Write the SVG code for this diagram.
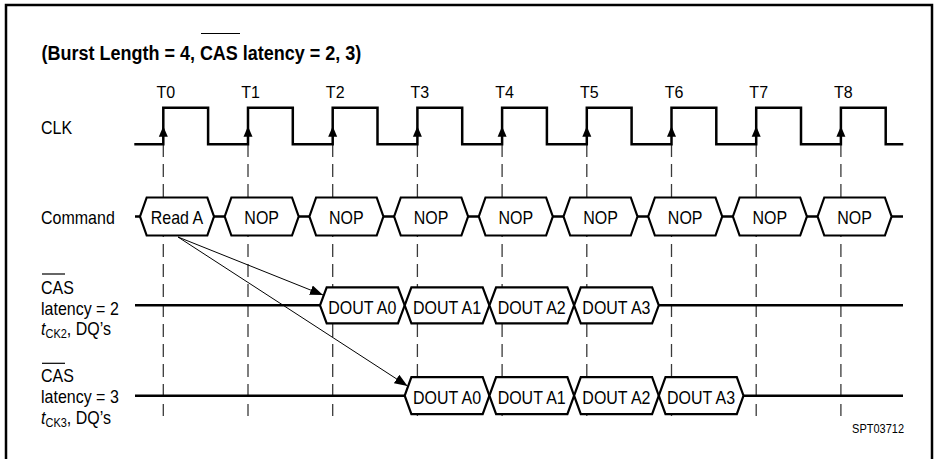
<svg xmlns="http://www.w3.org/2000/svg" width="937" height="459" viewBox="0 0 937 459">
<style>
  text { font-family: "Liberation Sans", Arial, Helvetica, sans-serif; fill: #000; }
  .lbl { font-size: 16px; }
  .tl { font-size: 16px; text-anchor: middle; }
  .hx { font-size: 16px; text-anchor: middle; }
  .title { font-size: 18px; font-weight: bold; }
  .sub { font-size: 11px; }
  .small { font-size: 11px; text-anchor: end; }
  .sig { fill: none; stroke: #000; stroke-width: 2.5; stroke-linejoin: miter; }
  .hex { fill: #fff; stroke: #000; stroke-width: 2.2; stroke-linejoin: miter; }
  .grid { stroke: #3a3a3a; stroke-width: 1.3; stroke-dasharray: 13 7; fill: none; }
  .bar { stroke: #000; stroke-width: 1.2; }
  .conn { stroke: #000; stroke-width: 1; fill: none; marker-end: url(#ah); }
</style>
<defs>
  <marker id="ah" markerUnits="userSpaceOnUse" markerWidth="14" markerHeight="10" refX="13" refY="5" orient="auto">
    <path d="M0,0 L13,5 L0,10 Z" fill="#000"/>
  </marker>
  <path id="edge" d="M0,-18 L-4.5,-7.5 L4.5,-7.5 Z" fill="#000"/>
</defs>

<rect x="0" y="0" width="937" height="459" fill="#fff"/>
<rect x="6" y="5" width="926" height="470" fill="none" stroke="#000" stroke-width="2.5"/>

<g id="title">
  <text class="title" transform="translate(41.5,60) scale(1,1.08)">(Burst Length = 4, CAS latency = 2, 3)</text>
  <line class="bar" x1="201" y1="33.5" x2="240" y2="33.5" stroke-width="1.5"/>
</g>

<g id="grid-lines">
  <line class="grid" x1="163.3" y1="144" x2="163.3" y2="416"/>
  <line class="grid" x1="248" y1="144" x2="248" y2="416"/>
  <line class="grid" x1="332.7" y1="144" x2="332.7" y2="416"/>
  <line class="grid" x1="417.4" y1="144" x2="417.4" y2="416"/>
  <line class="grid" x1="502.1" y1="144" x2="502.1" y2="416"/>
  <line class="grid" x1="586.8" y1="144" x2="586.8" y2="416"/>
  <line class="grid" x1="671.5" y1="144" x2="671.5" y2="416"/>
  <line class="grid" x1="756.2" y1="144" x2="756.2" y2="416"/>
  <line class="grid" x1="840.9" y1="144" x2="840.9" y2="416"/>
</g>

<g id="clock-labels">
  <text class="tl" x="165.8" y="98">T0</text>
  <text class="tl" x="250.5" y="98">T1</text>
  <text class="tl" x="335.2" y="98">T2</text>
  <text class="tl" x="419.9" y="98">T3</text>
  <text class="tl" x="504.6" y="98">T4</text>
  <text class="tl" x="589.3" y="98">T5</text>
  <text class="tl" x="674" y="98">T6</text>
  <text class="tl" x="758.7" y="98">T7</text>
  <text class="tl" x="843.4" y="98">T8</text>
</g>

<g id="clk">
  <text class="lbl" transform="translate(41,134) scale(1,1.15)">CLK</text>
  <path class="sig" d="M134.3,144.3 H163.3 V107.7 H208.1 V144.3 H248 V107.7 H292.8 V144.3 H332.7 V107.7 H377.5 V144.3 H417.4 V107.7 H462.2 V144.3 H502.1 V107.7 H546.9 V144.3 H586.8 V107.7 H631.6 V144.3 H671.5 V107.7 H716.3 V144.3 H756.2 V107.7 H801 V144.3 H840.9 V107.7 H885.7 V144.3 H903.3"/>
  <use href="#edge" x="163.3" y="144.3"/>
  <use href="#edge" x="248" y="144.3"/>
  <use href="#edge" x="332.7" y="144.3"/>
  <use href="#edge" x="417.4" y="144.3"/>
  <use href="#edge" x="502.1" y="144.3"/>
  <use href="#edge" x="586.8" y="144.3"/>
  <use href="#edge" x="671.5" y="144.3"/>
  <use href="#edge" x="756.2" y="144.3"/>
  <use href="#edge" x="840.9" y="144.3"/>
</g>

<g id="command">
  <text class="lbl" transform="translate(41,224) scale(1,1.15)">Command</text>
  <path class="sig" d="M135,216.5 H903"/>
  <g id="cmd-read-a">
    <polygon class="hex" points="140,216.5 146.7,197.5 207.3,197.5 214,216.5 207.3,235.5 146.7,235.5"/>
    <text class="hx" transform="translate(177,224) scale(1,1.15)">Read A</text>
  </g>
  <g id="cmd-nop-1">
    <polygon class="hex" points="224.7,216.5 231.4,197.5 292,197.5 298.7,216.5 292,235.5 231.4,235.5"/>
    <text class="hx" transform="translate(261.7,224) scale(1,1.15)">NOP</text>
  </g>
  <g id="cmd-nop-2">
    <polygon class="hex" points="309.4,216.5 316.1,197.5 376.7,197.5 383.4,216.5 376.7,235.5 316.1,235.5"/>
    <text class="hx" transform="translate(346.4,224) scale(1,1.15)">NOP</text>
  </g>
  <g id="cmd-nop-3">
    <polygon class="hex" points="394.1,216.5 400.8,197.5 461.4,197.5 468.1,216.5 461.4,235.5 400.8,235.5"/>
    <text class="hx" transform="translate(431.1,224) scale(1,1.15)">NOP</text>
  </g>
  <g id="cmd-nop-4">
    <polygon class="hex" points="478.8,216.5 485.5,197.5 546.1,197.5 552.8,216.5 546.1,235.5 485.5,235.5"/>
    <text class="hx" transform="translate(515.8,224) scale(1,1.15)">NOP</text>
  </g>
  <g id="cmd-nop-5">
    <polygon class="hex" points="563.5,216.5 570.2,197.5 630.8,197.5 637.5,216.5 630.8,235.5 570.2,235.5"/>
    <text class="hx" transform="translate(600.5,224) scale(1,1.15)">NOP</text>
  </g>
  <g id="cmd-nop-6">
    <polygon class="hex" points="648.2,216.5 654.9,197.5 715.5,197.5 722.2,216.5 715.5,235.5 654.9,235.5"/>
    <text class="hx" transform="translate(685.2,224) scale(1,1.15)">NOP</text>
  </g>
  <g id="cmd-nop-7">
    <polygon class="hex" points="732.9,216.5 739.6,197.5 800.2,197.5 806.9,216.5 800.2,235.5 739.6,235.5"/>
    <text class="hx" transform="translate(769.9,224) scale(1,1.15)">NOP</text>
  </g>
  <g id="cmd-nop-8">
    <polygon class="hex" points="817.6,216.5 824.3,197.5 884.9,197.5 891.6,216.5 884.9,235.5 824.3,235.5"/>
    <text class="hx" transform="translate(854.6,224) scale(1,1.15)">NOP</text>
  </g>
</g>

<g id="cl2">
  <text class="lbl" transform="translate(41,293.5) scale(1,1.15)">CAS</text>
  <line class="bar" x1="42" y1="274" x2="65" y2="274"/>
  <text class="lbl" transform="translate(41,314.5) scale(1,1.15)">latency = 2</text>
  <text class="lbl" transform="translate(41,335) scale(1,1.15)"><tspan font-style="italic">t</tspan><tspan class="sub" dy="2.5">CK2</tspan><tspan dy="-2.5">, DQ’s</tspan></text>
  <path class="sig" d="M135,305.3 H320 M658.8,305.3 H903"/>
  <g id="cl2-a0">
    <polygon class="hex" points="320,305.3 326.7,287.3 398,287.3 404.7,305.3 398,323.3 326.7,323.3"/>
    <text class="hx" transform="translate(362.3,314) scale(1,1.15)">DOUT A0</text>
  </g>
  <g id="cl2-a1">
    <polygon class="hex" points="404.7,305.3 411.4,287.3 482.7,287.3 489.4,305.3 482.7,323.3 411.4,323.3"/>
    <text class="hx" transform="translate(447,314) scale(1,1.15)">DOUT A1</text>
  </g>
  <g id="cl2-a2">
    <polygon class="hex" points="489.4,305.3 496.1,287.3 567.4,287.3 574.1,305.3 567.4,323.3 496.1,323.3"/>
    <text class="hx" transform="translate(531.7,314) scale(1,1.15)">DOUT A2</text>
  </g>
  <g id="cl2-a3">
    <polygon class="hex" points="574.1,305.3 580.8,287.3 652.1,287.3 658.8,305.3 652.1,323.3 580.8,323.3"/>
    <text class="hx" transform="translate(616.4,314) scale(1,1.15)">DOUT A3</text>
  </g>
</g>

<g id="cl3">
  <text class="lbl" transform="translate(41,382) scale(1,1.15)">CAS</text>
  <line class="bar" x1="42" y1="363.3" x2="65" y2="363.3"/>
  <text class="lbl" transform="translate(41,402.5) scale(1,1.15)">latency = 3</text>
  <text class="lbl" transform="translate(41,424) scale(1,1.15)"><tspan font-style="italic">t</tspan><tspan class="sub" dy="2.5">CK3</tspan><tspan dy="-2.5">, DQ’s</tspan></text>
  <path class="sig" d="M135,395.7 H404.7 M743.5,395.7 H903"/>
  <g id="cl3-a0">
    <polygon class="hex" points="404.7,395.7 411.4,377.2 482.7,377.2 489.4,395.7 482.7,414.2 411.4,414.2"/>
    <text class="hx" transform="translate(447,404.3) scale(1,1.15)">DOUT A0</text>
  </g>
  <g id="cl3-a1">
    <polygon class="hex" points="489.4,395.7 496.1,377.2 567.4,377.2 574.1,395.7 567.4,414.2 496.1,414.2"/>
    <text class="hx" transform="translate(531.7,404.3) scale(1,1.15)">DOUT A1</text>
  </g>
  <g id="cl3-a2">
    <polygon class="hex" points="574.1,395.7 580.8,377.2 652.1,377.2 658.8,395.7 652.1,414.2 580.8,414.2"/>
    <text class="hx" transform="translate(616.4,404.3) scale(1,1.15)">DOUT A2</text>
  </g>
  <g id="cl3-a3">
    <polygon class="hex" points="658.8,395.7 665.5,377.2 736.8,377.2 743.5,395.7 736.8,414.2 665.5,414.2"/>
    <text class="hx" transform="translate(701.1,404.3) scale(1,1.15)">DOUT A3</text>
  </g>
</g>

<g id="connectors">
  <path class="conn" d="M178,237 L323,295"/>
  <path class="conn" d="M178,237 L407.5,386"/>
</g>

<g id="figure-id">
  <text class="small" transform="translate(904,432.5) scale(1,1.2)">SPT03712</text>
</g>
</svg>
